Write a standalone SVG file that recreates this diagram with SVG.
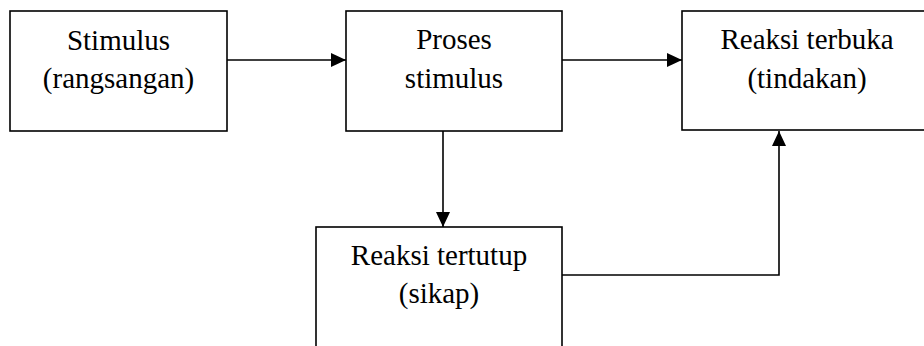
<svg xmlns="http://www.w3.org/2000/svg" width="924" height="346" viewBox="0 0 924 346">
  <style>
    .box { fill: #ffffff; stroke: #000000; stroke-width: 1.6; }
    .label { font-family: "Liberation Serif", "Times New Roman", serif; font-size: 29px; fill: #000000; text-anchor: middle; }
    .edge { fill: none; stroke: #000000; stroke-width: 1.6; }
  </style>
  <defs>
    <marker id="arrow" viewBox="0 0 15 14" refX="15" refY="7" markerWidth="15" markerHeight="14" markerUnits="userSpaceOnUse" orient="auto">
      <path d="M0,0 L15,7 L0,14 Z" fill="#000000"/>
    </marker>
  </defs>

  <g id="connectors">
    <line class="edge" x1="227" y1="60" x2="346" y2="60" marker-end="url(#arrow)"/>
    <line class="edge" x1="562" y1="60" x2="682" y2="60" marker-end="url(#arrow)"/>
    <line class="edge" x1="443" y1="131" x2="443" y2="227" marker-end="url(#arrow)"/>
    <polyline class="edge" points="562,275 779,275 779,131" marker-end="url(#arrow)"/>
  </g>

  <g id="stimulus">
    <rect class="box" x="10" y="11" width="217" height="120"/>
    <text class="label" x="118.5" y="50">Stimulus</text>
    <text class="label" x="118.5" y="88">(rangsangan)</text>
  </g>

  <g id="proses-stimulus">
    <rect class="box" x="346" y="11" width="216" height="120"/>
    <text class="label" x="454" y="49">Proses</text>
    <text class="label" x="454" y="88">stimulus</text>
  </g>

  <g id="reaksi-terbuka">
    <rect class="box" x="682" y="11" width="250" height="119"/>
    <text class="label" x="807" y="49">Reaksi terbuka</text>
    <text class="label" x="807" y="88">(tindakan)</text>
  </g>

  <g id="reaksi-tertutup">
    <rect class="box" x="316" y="227" width="246" height="140"/>
    <text class="label" x="439" y="265">Reaksi tertutup</text>
    <text class="label" x="439" y="303">(sikap)</text>
  </g>
</svg>
